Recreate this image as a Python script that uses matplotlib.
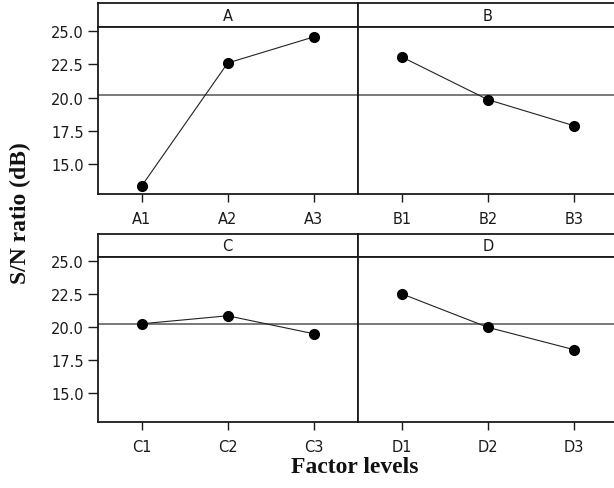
import matplotlib
matplotlib.use("Agg")
import matplotlib.pyplot as plt
import numpy as np

# ---- data ----
factors = ["A", "B", "C", "D"]
levels = {
    "A": ["A1", "A2", "A3"],
    "B": ["B1", "B2", "B3"],
    "C": ["C1", "C2", "C3"],
    "D": ["D1", "D2", "D3"],
}
sn_A = [13.37, 22.61, 24.57]
sn_B = [23.06, 19.85, 17.89]
sn_C = [20.25, 20.85, 19.50]
sn_D = [22.50, 19.98, 18.30]
series = {"A": sn_A, "B": sn_B, "C": sn_C, "D": sn_D}
yticks = [15.0, 17.5, 20.0, 22.5, 25.0]
grand_mean = np.mean(sn_A + sn_B + sn_C + sn_D)

W, H = 614, 489
fig = plt.figure(figsize=(W / 100, H / 100), dpi=100)
fig.patch.set_facecolor("white")

def px_axes(x0, y0, x1, y1):
    # pixel box (top-left origin) -> figure axes
    return fig.add_axes([x0 / W, 1 - y1 / H, (x1 - x0) / W, (y1 - y0) / H])

cols = [(97.7, 357.7), (357.7, 618.0)]
rows = [(4.0, 28.3, 195.0), (234.7, 258.3, 423.3)]
ylims = [(12.74, 25.30), (12.82, 25.26)]

frame_lw = 1.3
for i, f in enumerate(factors):
    r, c = divmod(i, 2)
    x0, x1 = cols[c]
    yh, ym, yb = rows[r]
    # header strip
    hax = px_axes(x0, yh, x1, ym)
    hax.set_xticks([]); hax.set_yticks([])
    for s in hax.spines.values():
        s.set_linewidth(frame_lw); s.set_color("#1a1a1a")
    hax.text(0.5, 0.5, f, ha="center", va="center", fontsize=10.5,
             family="DejaVu Sans", color="#1a1a1a", transform=hax.transAxes)
    # main panel
    ax = px_axes(x0, ym, x1, yb)
    xs = np.arange(1, 4)
    ax.axhline(grand_mean, color="#555555", lw=1.1, zorder=1)
    ax.plot(xs, series[f], color="#222222", lw=0.8, marker="o",
            markersize=7, markerfacecolor="black", markeredgecolor="black", zorder=3)
    ax.set_xlim(0.485, 3.515)
    ax.set_ylim(*ylims[r])
    ax.set_xticks(xs)
    ax.set_xticklabels(levels[f], fontsize=10.5, family="DejaVu Sans", color="#1a1a1a")
    ax.tick_params(axis="x", direction="out", length=6, width=1.0, pad=6, colors="#1a1a1a")
    if c == 0:
        ax.set_yticks(yticks)
        ax.set_yticklabels([f"{v:.1f}" for v in yticks], fontsize=10.5,
                           family="DejaVu Sans", color="#1a1a1a")
        ax.tick_params(axis="y", direction="out", length=7, width=1.0, pad=3, colors="#1a1a1a")
    else:
        ax.set_yticks([])
    for s in ax.spines.values():
        s.set_linewidth(frame_lw); s.set_color("#1a1a1a")

fig.text(20 / W, 1 - 213.5 / H, "S/N ratio (dB)", rotation=90, ha="center", va="center",
         fontsize=17, fontweight="bold", family="Liberation Serif", color="#111111")
fig.text(355 / W, 1 - 468 / H, "Factor levels", ha="center", va="center",
         fontsize=17, fontweight="bold", family="Liberation Serif", color="#111111")

fig.savefig("out.png", dpi=100, facecolor="white")
